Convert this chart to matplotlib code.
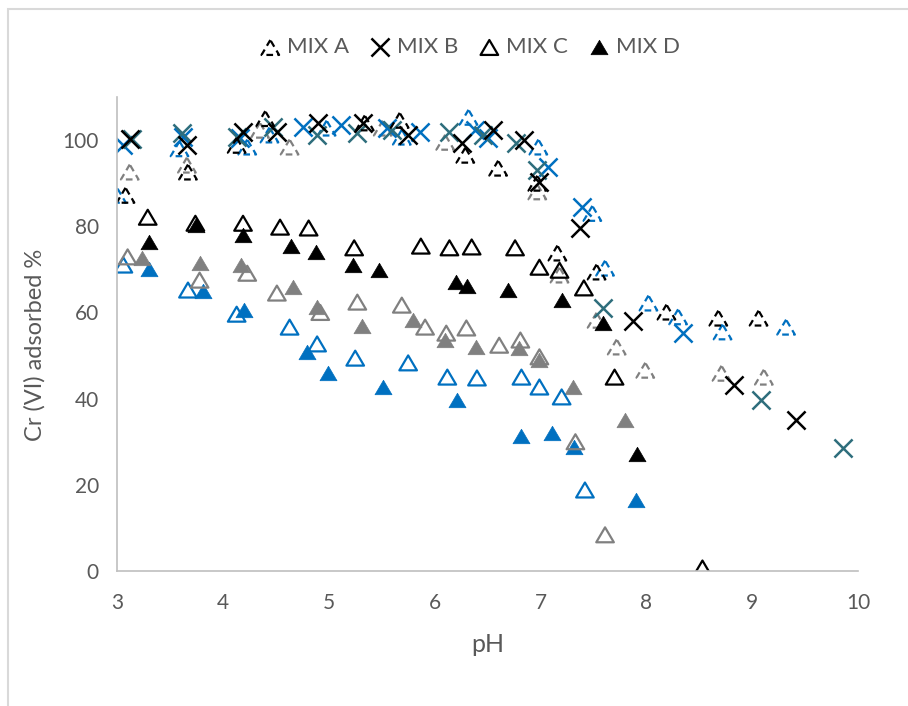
import matplotlib.pyplot as plt
import matplotlib.patches as patches
from matplotlib.path import Path

plt.rcParams['font.family'] = ['Lato', 'DejaVu Sans']

# =========================
# Data (pH, Cr(VI) adsorbed %)
# =========================

# MIX A (dashed triangles)
a_blk_x = [3.08, 3.67, 4.13, 4.40, 5.34, 5.67, 6.29, 6.60, 6.97, 7.16, 7.53, 8.19, 8.68, 9.06]
a_blk_y = [87.2, 92.6, 98.8, 105.0, 104.0, 104.6, 96.5, 93.5, 90.0, 73.8, 69.4, 60.1, 58.7, 58.7]
a_gry_x = [3.12, 3.66, 4.35, 4.63, 5.51, 6.10, 6.97, 7.18, 7.53, 7.72, 7.99, 8.71, 9.11]
a_gry_y = [92.6, 94.2, 102.3, 98.4, 102.8, 99.5, 88.0, 68.7, 58.2, 52.0, 46.6, 45.9, 45.0]
a_blu_x = [3.00, 3.59, 4.23, 4.44, 4.98, 5.69, 6.32, 6.98, 7.49, 7.61, 8.02, 8.30, 8.72, 9.32]
a_blu_y = [87.2, 98.0, 98.4, 101.2, 102.8, 100.7, 105.3, 98.4, 83.0, 70.3, 62.2, 59.0, 55.5, 56.6]

# MIX B (crosses)
b_blk_x = [3.12, 3.66, 4.19, 4.51, 4.90, 5.32, 5.75, 6.26, 6.55, 6.84, 6.99, 7.37, 7.87, 8.83, 9.41]
b_blk_y = [100.2, 98.8, 101.9, 101.9, 103.9, 103.9, 101.2, 99.3, 102.3, 100.0, 90.3, 79.6, 58.0, 43.2, 35.0]
b_tea_x = [3.14, 3.61, 4.13, 4.47, 4.89, 5.27, 5.60, 6.14, 6.46, 6.77, 6.97, 7.59, 9.08, 9.86]
b_tea_y = [100.2, 101.6, 100.7, 103.0, 101.2, 101.6, 102.3, 101.9, 101.2, 99.3, 93.0, 61.0, 39.7, 28.5]
b_blu_x = [3.06, 3.62, 4.16, 4.76, 5.12, 5.55, 5.86, 6.38, 6.50, 7.07, 7.39, 8.35]
b_blu_y = [98.8, 100.7, 100.5, 103.0, 103.5, 102.8, 101.9, 102.3, 100.5, 93.7, 84.5, 55.2]

# MIX C (open triangles)
c_blk_x = [3.29, 3.74, 4.19, 4.54, 4.81, 5.24, 5.87, 6.14, 6.35, 6.76, 6.99, 7.18, 7.41, 7.70, 8.53]
c_blk_y = [82.1, 80.7, 80.7, 79.8, 79.6, 75.0, 75.4, 75.0, 75.2, 75.0, 70.5, 69.8, 65.7, 45.0, 0.7]
c_gry_x = [3.10, 3.78, 4.23, 4.51, 4.92, 5.27, 5.69, 5.91, 6.11, 6.30, 6.61, 6.81, 6.99, 7.33, 7.61]
c_gry_y = [72.9, 67.5, 69.1, 64.5, 60.0, 62.4, 61.7, 56.6, 55.2, 56.4, 52.4, 53.6, 49.7, 30.0, 8.4]
c_blu_x = [3.06, 3.67, 4.13, 4.63, 4.89, 5.25, 5.75, 6.12, 6.40, 6.82, 6.99, 7.20, 7.42]
c_blu_y = [71.0, 65.2, 59.6, 56.6, 52.7, 49.4, 48.3, 45.0, 44.8, 45.0, 42.7, 40.4, 18.8]

# MIX D (filled triangles)
d_blk_x = [3.30, 3.75, 4.19, 4.64, 4.88, 5.23, 5.47, 6.20, 6.31, 6.69, 7.20, 7.59, 7.91]
d_blk_y = [76.3, 80.4, 78.0, 75.4, 74.0, 71.0, 69.8, 67.1, 66.2, 65.3, 62.9, 57.6, 27.1]
d_gry_x = [3.24, 3.78, 4.17, 4.66, 4.89, 5.31, 5.80, 6.10, 6.39, 6.80, 6.99, 7.31, 7.80]
d_gry_y = [72.6, 71.4, 71.0, 65.9, 61.3, 56.8, 58.2, 53.6, 52.0, 51.7, 49.0, 42.8, 35.0]
d_blu_x = [3.30, 3.81, 4.20, 4.79, 4.99, 5.51, 6.21, 6.82, 7.11, 7.32, 7.90]
d_blu_y = [70.0, 65.0, 60.6, 50.8, 46.0, 42.7, 39.7, 31.3, 32.1, 28.8, 16.5]

# =========================
# Style
# =========================

BLACK = '#000000'
GRAY = '#808080'
BLUE = '#0070C0'
TEAL = '#2E6E7C'
TXT = '#595959'

# Excel-like (slightly flattened) triangle
tri = Path([(0, 0.85), (-1, -0.85), (1, -0.85), (0, 0.85)],
           [Path.MOVETO, Path.LINETO, Path.LINETO, Path.CLOSEPOLY])

fig = plt.figure(figsize=(9.08, 7.06), dpi=100)
ax = fig.add_axes([0.1289, 0.1912, 0.8161, 0.6714])

# chart-area border (only top/left visible)
fig.patches.append(patches.Rectangle((8 / 908, -0.5), 2, 0.5 + 1 - 9 / 706,
                                     transform=fig.transFigure, fill=False,
                                     edgecolor='#D9D9D9', linewidth=1.5))


def mix_a(x, y, c, label=None):
    return ax.scatter(x, y, marker=tri, s=160, facecolors='none', edgecolors=c,
                      linewidths=1.6, linestyle=(0, (3.0, 2.0)), label=label)


def mix_b(x, y, c, label=None):
    return ax.scatter(x, y, marker='x', s=170, color=c, linewidths=1.8, label=label)


def mix_c(x, y, c, label=None):
    return ax.scatter(x, y, marker=tri, s=160, facecolors='none', edgecolors=c,
                      linewidths=1.6, label=label)


def mix_d(x, y, c, label=None):
    return ax.scatter(x, y, marker=tri, s=150, color=c, linewidths=0.5, label=label)


# coloured series first, black series (legend) on top
mix_d(d_blu_x, d_blu_y, BLUE)
mix_d(d_gry_x, d_gry_y, GRAY)
mix_c(c_blu_x, c_blu_y, BLUE)
mix_c(c_gry_x, c_gry_y, GRAY)
mix_a(a_blu_x, a_blu_y, BLUE)
mix_a(a_gry_x, a_gry_y, GRAY)
mix_b(b_blu_x, b_blu_y, BLUE)
mix_b(b_tea_x, b_tea_y, TEAL)

h_a = mix_a(a_blk_x, a_blk_y, BLACK, "MIX A")
h_b = mix_b(b_blk_x, b_blk_y, BLACK, "MIX B")
h_c = mix_c(c_blk_x, c_blk_y, BLACK, "MIX C")
h_d = mix_d(d_blk_x, d_blk_y, BLACK, "MIX D")

# =========================
# Axes
# =========================

ax.set_xlim(3, 10)
ax.set_ylim(0, 110)
ax.set_xticks(range(3, 11))
ax.set_yticks(range(0, 101, 20))
ax.tick_params(length=0, labelsize=15, labelcolor=TXT)
ax.tick_params(axis='x', pad=16)
ax.tick_params(axis='y', pad=13)

for side in ['top', 'right']:
    ax.spines[side].set_visible(False)
for side in ['left', 'bottom']:
    ax.spines[side].set_color('#BFBFBF')
    ax.spines[side].set_linewidth(1.2)

ax.set_xlabel("pH", fontsize=18, color=TXT, labelpad=14)
ax.set_ylabel("Cr (VI) adsorbed %", fontsize=17, color=TXT)
ax.yaxis.set_label_coords(-0.097, 0.477)

fig.legend(handles=[h_a, h_b, h_c, h_d], loc='center', bbox_to_anchor=(0.517, 0.933),
           ncol=4, frameon=False, fontsize=16, handlelength=1.0, handletextpad=0.25,
           columnspacing=0.9, scatterpoints=1, labelcolor=TXT)

fig.savefig("out.png", dpi=100)
